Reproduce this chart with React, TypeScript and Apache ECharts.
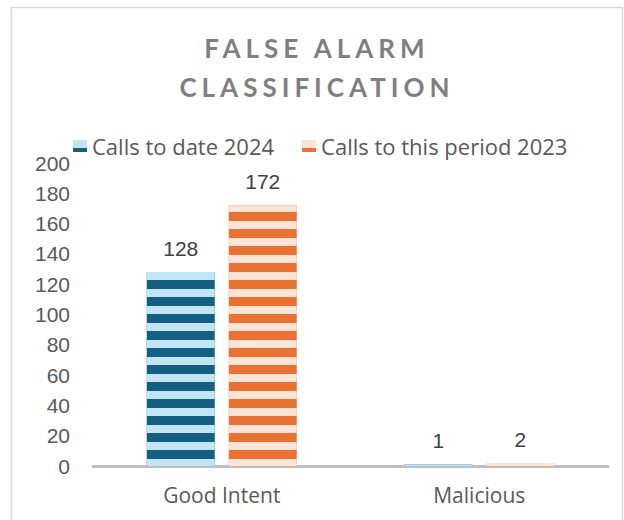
import React, { useEffect, useRef } from "react";
import * as echarts from "echarts";

const categories = ["Good Intent", "Malicious"];
const seriesNames = ["Calls to date 2024", "Calls to this period 2023"];
const calls2024 = [128, 1];
const calls2023 = [172, 2];
const yMin = 0;
const yMax = 200;
const yInterval = 20;

export default function App() {
  const ref = useRef<HTMLDivElement>(null);
  useEffect(() => {
    if (!ref.current) return;
    const chart = echarts.init(ref.current, null, { renderer: "svg" });
    const font = "Liberation Sans";
    const font2 = "Open Sans";
    chart.setOption({
      animation: false,
      backgroundColor: "#ffffff",
      title: {
        text: "FALSE ALARM\nCLASSIFICATION",
        left: 312,
        textAlign: "center",
        top: 23,
        textStyle: {
          fontFamily: "Lato",
          fontWeight: "bold",
          fontSize: 26,
          lineHeight: 39,
          color: "#7f7f7f",
        },
      },
      graphic: [
        {
          type: "rect",
          shape: { x: 11.5, y: 7.5, width: 611, height: 520 },
          style: { fill: "none", stroke: "#d9d9d9", lineWidth: 1.5 },
          silent: true,
        },
      ],
      legend: {
        left: 68,
        top: 130,
        icon: "rect",
        itemWidth: 14,
        itemHeight: 12,
        itemGap: 28,
        textStyle: { fontFamily: font2, fontSize: 22, color: "#595959" },
        data: seriesNames,
      },
      grid: { left: 93, right: 16, top: 163, bottom: 54, containLabel: false },
      xAxis: {
        type: "category",
        data: categories,
        axisLine: { show: true, lineStyle: { color: "#bfbfbf", width: 3 } },
        axisTick: { show: false },
        axisLabel: { fontFamily: font2, fontSize: 21, color: "#595959", margin: 18 },
      },
      yAxis: {
        type: "value",
        min: yMin,
        max: yMax,
        interval: yInterval,
        axisLine: { show: false },
        axisTick: { show: false },
        splitLine: { show: false },
        axisLabel: { fontFamily: font, fontSize: 21, color: "#595959", margin: 23 },
      },
      series: [
        {
          name: seriesNames[0],
          type: "bar",
          data: calls2024,
          barWidth: 68,
          barGap: "20.6%",
          itemStyle: {
            color: "#156082",
            decal: {
              symbol: "rect",
              symbolSize: 1,
              dashArrayX: [1, 0],
              dashArrayY: [8, 9],
              rotation: 0,
              color: "#C1E5F5",
            },
          },
          label: {
            show: true,
            position: "top",
            distance: 13,
            fontFamily: font,
            fontSize: 21,
            color: "#404040",
          },
        },
        {
          name: seriesNames[1],
          type: "bar",
          data: calls2023,
          barWidth: 68,
          itemStyle: {
            color: "#E97132",
            decal: {
              symbol: "rect",
              symbolSize: 1,
              dashArrayX: [1, 0],
              dashArrayY: [8, 9],
              rotation: 0,
              color: "#FBE3D6",
            },
          },
          label: {
            show: true,
            position: "top",
            distance: 13,
            fontFamily: font,
            fontSize: 21,
            color: "#404040",
          },
        },
      ],
    });
    return () => chart.dispose();
  }, []);
  return (
    <>
      <style>{`text[style*="Lato"]{letter-spacing:5px;}`}</style>
      <div
        ref={ref}
        style={{ position: "fixed", left: 0, top: 0, width: 624, height: 520 }}
      />
    </>
  );
}
